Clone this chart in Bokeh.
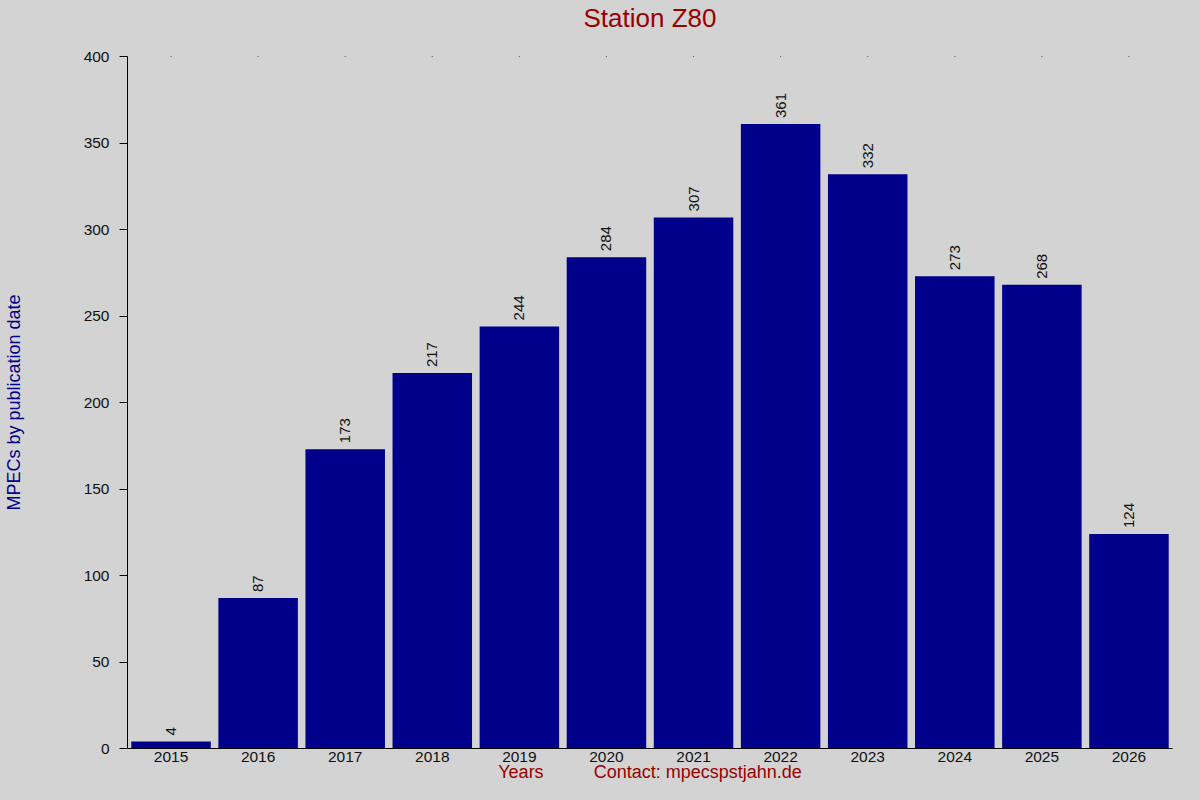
import math
from bokeh.plotting import figure
from bokeh.models import FactorRange, Range1d, FixedTicker, ColumnDataSource, Title
from bokeh.core.properties import value
from bokeh.embed import file_html
from bokeh.resources import INLINE

years = ["2015", "2016", "2017", "2018", "2019", "2020",
         "2021", "2022", "2023", "2024", "2025", "2026"]
counts = [4, 87, 173, 217, 244, 284, 307, 361, 332, 273, 268, 124]
y_ticks = [0, 50, 100, 150, 200, 250, 300, 350, 400]

FONT = "Liberation Sans"
BG = "#d3d3d3"
BAR = "#00008b"
RED = "#990000"

W, H = 1184, 784
LEFT, RIGHT, TOP, BOTTOM = 126, 12, 56, 33

src = ColumnDataSource(dict(year=years, count=counts, label=[str(c) for c in counts],
                            top=[y_ticks[-1]] * len(years)))

p = figure(width=W, height=H,
           x_range=FactorRange(*years), y_range=Range1d(y_ticks[0], y_ticks[-1]),
           output_backend="svg", toolbar_location=None)
p.title = None
p.min_border_left = LEFT
p.min_border_right = RIGHT
p.min_border_top = TOP
p.min_border_bottom = BOTTOM
p.background_fill_color = None
p.border_fill_color = BG
p.outline_line_color = None
p.xgrid.visible = False
p.ygrid.visible = False

# spacer between frame and title, then the title itself (outermost)
p.add_layout(Title(text="\u00a0", text_font=FONT, text_font_size="14px", standoff=2), "above")
p.add_layout(Title(text="Station Z80", text_font=FONT, text_font_size="26px",
                   text_font_style="normal", text_color=RED, align="center",
                   vertical_align="top", standoff=4), "above")

p.vbar(x="year", top="count", width=0.913, source=src,
       fill_color=BAR, line_color=None)
p.text(x="year", y="count", text="label", source=src, angle=math.pi / 2,
       text_align="left", text_baseline="middle", y_offset=-6,
       text_font=value(FONT), text_font_size=value("15px"), text_color="#111111")
# tiny category tick dots along the top edge
p.scatter(x="year", y="top", source=src, marker="square", size=1.2,
          fill_color="black", line_color=None)

ya = p.yaxis[0]
ya.ticker = FixedTicker(ticks=y_ticks)
ya.major_tick_out = 8
ya.major_tick_in = 0
ya.minor_tick_out = 0
ya.minor_tick_in = 0
ya.major_label_standoff = 10
ya.major_label_text_font = FONT
ya.major_label_text_font_size = "15.5px"
ya.major_label_text_color = "#111111"
ya.axis_line_color = "black"
ya.axis_label = "MPECs by publication date"
ya.axis_label_text_font = FONT
ya.axis_label_text_font_size = "18px"
ya.axis_label_text_font_style = "normal"
ya.axis_label_text_color = BAR
ya.axis_label_standoff = 57

xa = p.xaxis[0]
xa.major_tick_out = 0
xa.major_tick_in = 0
xa.major_label_standoff = 3
xa.major_label_text_font = FONT
xa.major_label_text_font_size = "15.5px"
xa.major_label_text_color = "#111111"
xa.axis_label = "Years" + "\u00a0" * 10 + "Contact: mpecspstjahn.de"
xa.axis_label_text_font = FONT
xa.axis_label_text_font_size = "18px"
xa.axis_label_text_font_style = "normal"
xa.axis_label_text_color = RED
xa.axis_label_standoff = -3
xa.axis_line_color = "black"

html = file_html(p, INLINE)
html = html.replace("<head>", "<head><style>html,body{background:#d3d3d3;}</style>", 1)
open("out.html", "w").write(html)
